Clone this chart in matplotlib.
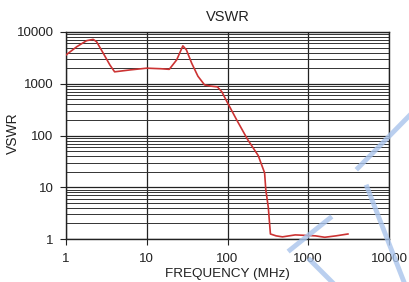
import numpy as np
import matplotlib.pyplot as plt
from matplotlib.lines import Line2D

plt.rcParams['font.family'] = ['Liberation Sans', 'DejaVu Sans']

# VSWR vs frequency
freq = [1.0, 1.36, 1.8, 2.17, 2.39, 2.89, 3.5, 4.0, 6.2, 10.0, 15.0, 19.0, 23.5, 28.0, 31.0, 36.0, 43.0,
        52.0, 62.0, 75.0, 85.0, 100.0, 130.0, 178.0, 240.0, 288.0, 298.0, 320.0, 340.0, 400.0, 480.0,
        690.0, 1230.0, 1600.0, 2200.0, 3100.0]
vswr = [3600, 5200, 6800, 7200, 6500, 3900, 2300, 1700, 1850, 2000, 1950, 1900, 2900, 5400, 4500, 2500, 1400,
        950, 900, 870, 700, 430, 200, 83, 41, 19, 9, 4.1, 1.25, 1.15, 1.1,
        1.2, 1.15, 1.08, 1.15, 1.25]

xticks = [1, 10, 100, 1000, 10000]
yticks = [1, 10, 100, 1000, 10000]

fig = plt.figure(figsize=(4.1, 2.82), dpi=100)
ax = fig.add_axes([66/410, 1-239/282, (389-66)/410, (239-32)/282])

ax.plot(freq, vswr, color='#cc3333', lw=1.2, zorder=3)
ax.set_xscale('log')
ax.set_yscale('log')
ax.set_xlim(1, 10000)
ax.set_ylim(1, 10000)
ax.set_xticks(xticks)
ax.set_xticklabels([str(t) for t in xticks])
ax.set_yticks(yticks)
ax.set_yticklabels([str(t) for t in yticks])
ax.xaxis.set_minor_locator(plt.NullLocator())
ax.yaxis.set_minor_locator(plt.LogLocator(base=10, subs=np.arange(2, 10)))
ax.yaxis.set_minor_formatter(plt.NullFormatter())
ax.tick_params(axis='y', which='minor', length=0)
ax.tick_params(axis='both', which='major', labelsize=9.5, length=4, color='#222222', labelcolor='#222222')
ax.tick_params(axis='x', which='major', pad=6)
ax.tick_params(axis='y', which='major', pad=5)

ax.grid(True, which='major', axis='both', color='#222222', lw=0.9)
ax.grid(True, which='minor', axis='y', color='#333333', lw=0.7)
for s in ax.spines.values():
    s.set_color('#222222')
    s.set_linewidth(1.0)

ax.set_title('VSWR', fontsize=10.5, color='#222222', pad=8)
ax.set_xlabel('FREQUENCY (MHz)', fontsize=9.7, color='#222222', labelpad=2)
# y label placed by hand so it stays inside the picture
fig.text(13/410, 1-133/282, 'VSWR', rotation=90, ha='center', va='center',
         fontsize=10, color='#222222')

# light blue watermark strokes
marks = [((409, 116), (358, 168)), ((367, 187), (404, 282)),
         ((330, 218), (290, 250)), ((310, 260), (332, 282))]
for (x0, y0), (x1, y1) in marks:
    fig.add_artist(Line2D([x0/410, x1/410], [1-y0/282, 1-y1/282],
                          color='#a9c4ec', lw=3.5, alpha=0.8, zorder=10))

fig.savefig('out.png', dpi=100)
